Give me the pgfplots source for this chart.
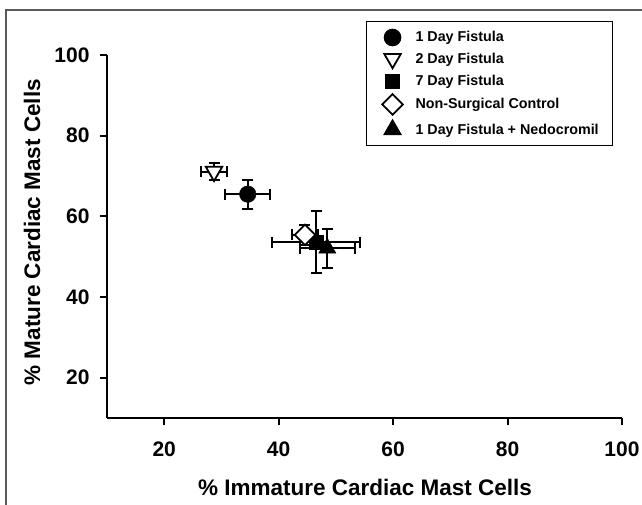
\documentclass[border=0pt]{standalone}
\usepackage{fontspec}
\setmainfont{Liberation Sans}
\usepackage{pgfplots}
\pgfplotsset{compat=1.18}
\pgfplotsset{
  eb/.style={error bars/.cd, x dir=both, x explicit, y dir=both, y explicit,
    error bar style={line width=2pt, black, solid},
    error mark options={rotate=90, mark size=5.5pt, line width=2pt, black, solid}},
}
\begin{document}
\begin{tikzpicture}[x=1pt,y=1pt]
% page frame (as in the scanned figure)
\useasboundingbox (0,0) rectangle (642,505);
\draw[gray!70!black, line width=1.3pt] (6,0) -- (6,495) -- (642,495);
\begin{axis}[
  at={(107pt,87pt)}, anchor=south west,
  scale only axis,
  width=515pt, height=363pt,
  xmin=10, xmax=100, ymin=10, ymax=100,
  xtick={20,40,60,80,100}, ytick={20,40,60,80,100},
  axis lines=left,
  axis line style={-, line width=2.3pt},
  xtick pos=bottom, ytick pos=left,
  tick style={line width=2pt, black},
  tick align=outside,
  major tick length=7pt,
  /pgf/number format/assume math mode=true,
  ticklabel style={font=\fontsize{21}{24}\selectfont\bfseries},
  xticklabel style={yshift=-13pt},
  yticklabel style={xshift=-7pt},
  xlabel={\% Immature Cardiac Mast Cells},
  ylabel={\% Mature Cardiac Mast Cells},
  label style={font=\fontsize{22.5}{26}\selectfont\bfseries},
  xlabel style={at={(axis description cs:0.501,-0.190)}, anchor=center},
  ylabel style={at={(axis description cs:-0.1456,0.512)}, anchor=center, rotate=0},
  legend style={at={(axis description cs:0.503,1.0945)}, anchor=north west,
    draw=black, line width=1pt, font=\fontsize{14.3}{17}\selectfont\bfseries,
    inner xsep=12pt, inner ysep=8pt, row sep=5pt,
    cells={anchor=west}},
  legend cell align=left,
  legend image code/.code={\path[draw=none, fill=none] (0pt,0pt) -- (35pt,0pt); \draw[#1] plot[only marks] coordinates {(14pt,0pt)};},
  clip=false,
]
% 1 Day Fistula
\addplot[only marks, mark=*, mark size=8.3pt, black, fill=black, eb]
  coordinates {(34.6,65.5) +- (3.9,3.6)};
% 2 Day Fistula
\addplot[only marks, mark=triangle*, mark size=9.5pt, mark options={rotate=180, fill=white, line width=1.8pt}, black, eb]
  coordinates {(28.7,71.1) +- (2.3,2.2)};
% 7 Day Fistula
\addplot[only marks, mark=square*, mark size=7pt, black, fill=black, eb]
  coordinates {(46.6,53.6) +- (7.7,7.6)};
% Non-Surgical Control
\addplot[only marks, mark=square*, mark size=7.3pt, mark options={rotate=45, fill=white, line width=1.8pt}, black, eb]
  coordinates {(44.6,55.4) +- (2.3,2.5)};
% 1 Day Fistula + Nedocromil
\addplot[only marks, mark=triangle*, mark size=10pt, black, fill=black, eb]
  coordinates {(48.5,52.1) +- (4.8,4.8)};
\legend{1 Day Fistula, 2 Day Fistula, 7 Day Fistula, Non-Surgical Control, 1 Day Fistula + Nedocromil}
\end{axis}
\end{tikzpicture}
\end{document}
